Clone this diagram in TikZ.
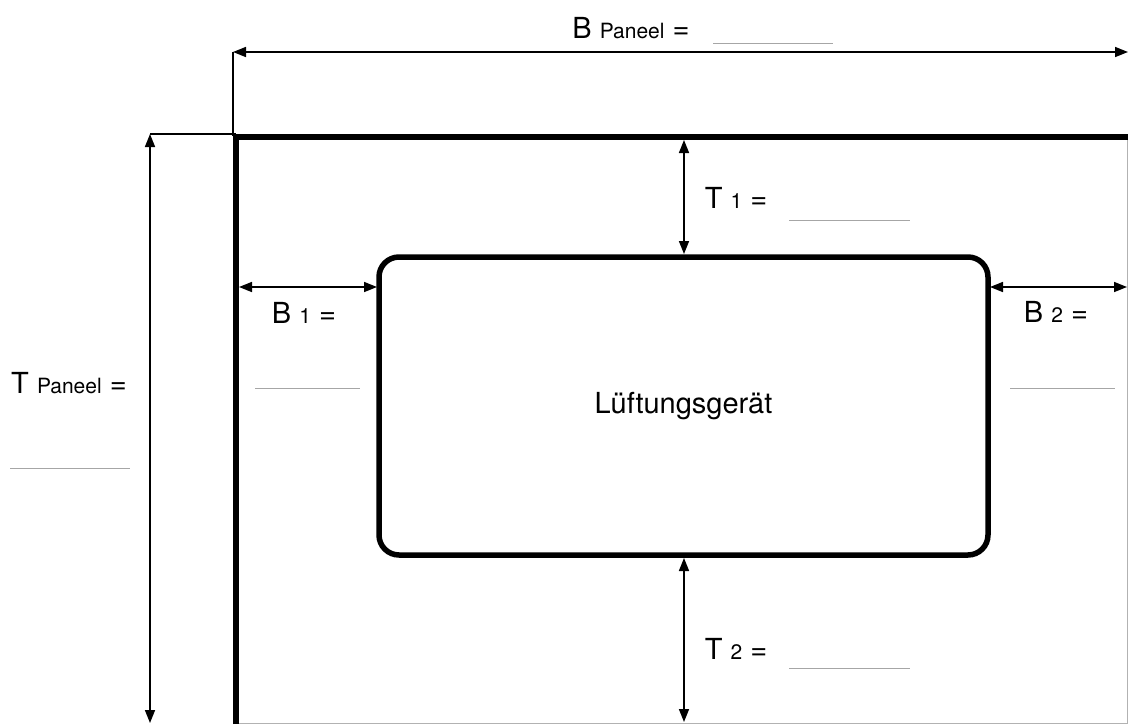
\documentclass[tikz,border=0pt]{standalone}
\usepackage{fontspec}
\setmainfont{TeX Gyre Heros}
\usetikzlibrary{arrows.meta}
\newcommand{\dimsub}[1]{{\fontsize{21}{25}\selectfont #1}}

\begin{document}
\begin{tikzpicture}[x=1pt, y=-1pt,
    every node/.style={font=\fontsize{29}{34}\selectfont, inner sep=0pt},
    dim/.style={line width=1.6pt, {Triangle[length=13pt,width=10pt]}-{Triangle[length=13pt,width=10pt]}},
    extline/.style={line width=1.4pt},
    blank/.style={line width=0.9pt, gray!70},
    panel/.style={line width=6pt},
    edge/.style={line width=1pt, gray!60}]
            \useasboundingbox (0,0) rectangle (1128,724);

            % panel outline
            \draw[edge] (236,723) -- (1127,723) -- (1127,137);
            \draw[panel] (236,724) -- (236,137) -- (1128,137);

            % ventilation unit
            \node[draw, line width=5.5pt, rounded corners=20pt, minimum width=609pt, minimum height=298pt] (unit) at (683.5,406) {L\"uftungsger\"at};

            % end points of the dimensions
            \coordinate (bp1) at (233,52);
            \coordinate (bp2) at (1128,52);
            \coordinate (bpx) at (233,136);
            \coordinate (tp1) at (150,134);
            \coordinate (tp2) at (150,723);
            \coordinate (tpx) at (236,134);
            \coordinate (t1a) at (684,140);
            \coordinate (t1b) at (684,254);
            \coordinate (t2a) at (684,558);
            \coordinate (t2b) at (684,722);
            \coordinate (b1a) at (239,287);
            \coordinate (b1b) at (377,287);
            \coordinate (b2a) at (990,287);
            \coordinate (b2b) at (1127,287);

            \draw[extline] (bpx) -- (bp1);
            \draw[extline] (tpx) -- (tp1);
            \draw[dim] (bp1) -- (bp2);
            \draw[dim] (tp1) -- (tp2);
            \draw[dim] (t1a) -- (t1b);
            \draw[dim] (t2a) -- (t2b);
            \draw[dim] (b1a) -- (b1b);
            \draw[dim] (b2a) -- (b2b);

            % labels
            \node (lbp) at (631,28) {B \dimsub{Paneel} =};
            \node (ltp) at (69,383) {T \dimsub{Paneel} =};
            \node (lt1) at (736,198) {T \dimsub{1} =};
            \node (lt2) at (736,649) {T \dimsub{2} =};
            \node (lb1) at (304,313) {B \dimsub{1} =};
            \node (lb2) at (1056,312) {B \dimsub{2} =};

            % blanks to fill in
            \draw[blank] (713,43) -- (833,43);
            \draw[blank] (10,468) -- (130,468);
            \draw[blank] (789,220) -- (910,220);
            \draw[blank] (789,668) -- (910,668);
            \draw[blank] (255,388) -- (360,388);
            \draw[blank] (1010,388) -- (1115,388);
        \end{tikzpicture}
\end{document}
